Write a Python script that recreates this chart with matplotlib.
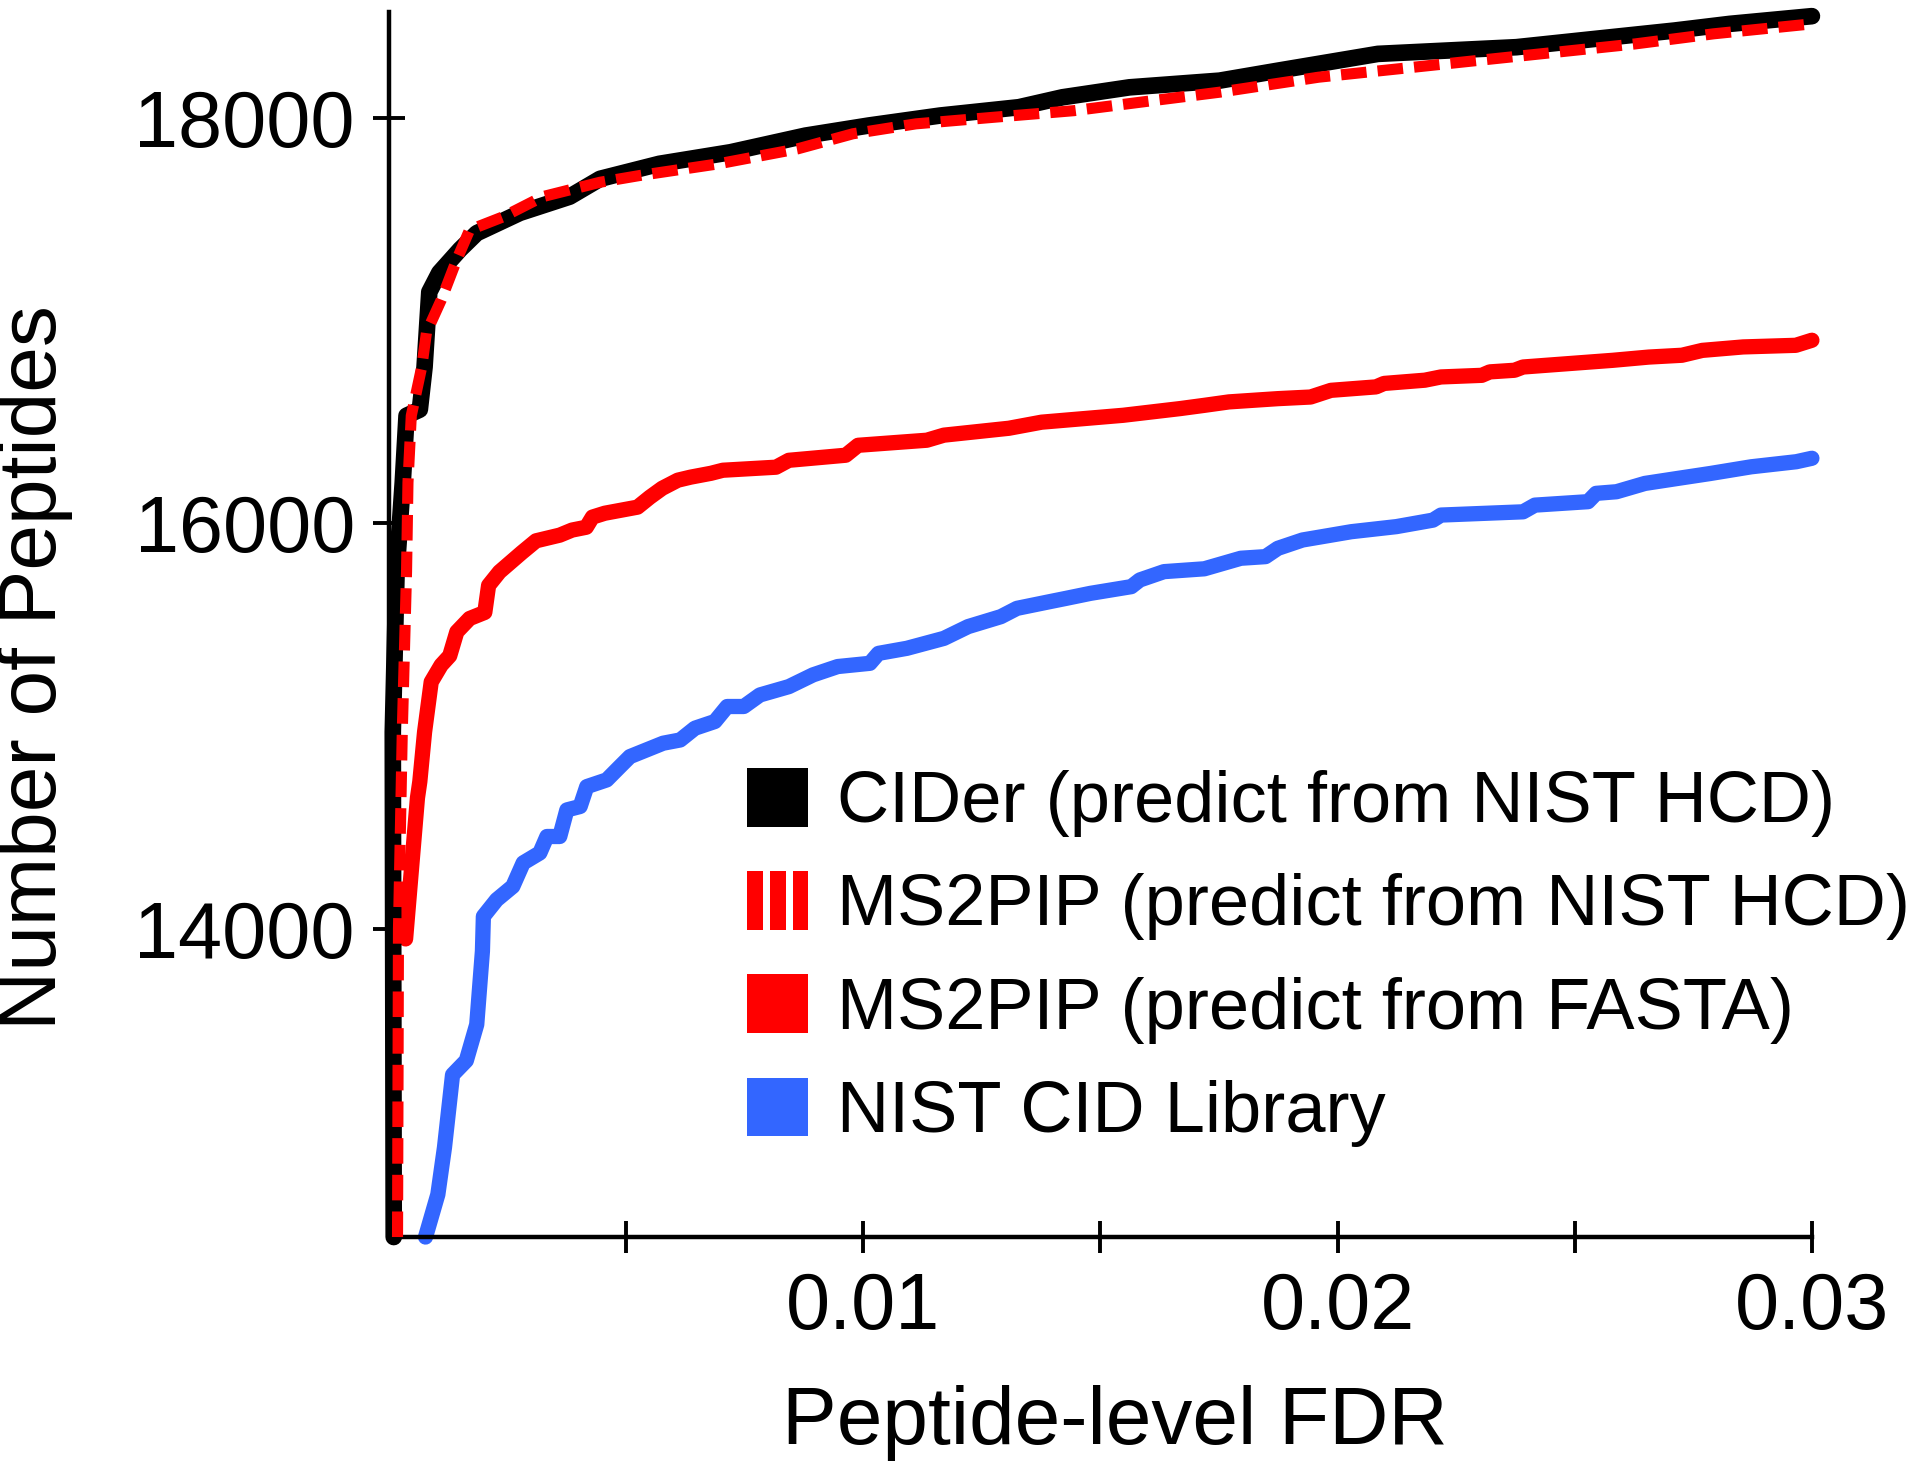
import matplotlib
matplotlib.use('Agg')
import matplotlib.pyplot as plt
from matplotlib.patches import Patch
from matplotlib.legend_handler import HandlerTuple

plt.rcParams['font.family'] = ['Liberation Sans', 'DejaVu Sans']

labels = ['CIDer (predict from NIST HCD)', 'MS2PIP (predict from NIST HCD)',
          'MS2PIP (predict from FASTA)', 'NIST CID Library']

# values (FDR, number of peptides)
cider_fdr = [0.0001, 0.00008, 0.00016, 0.00029, 0.00037, 0.00065, 0.00075, 0.00085, 0.00106,
             0.0015, 0.00185, 0.00276, 0.00381, 0.00445, 0.0057, 0.0072, 0.00878, 0.01012,
             0.01162, 0.01328, 0.0142, 0.01561, 0.01751, 0.01876, 0.02085, 0.02377, 0.02543,
             0.0271, 0.02827, 0.03]
cider_pep = [12480, 14970, 15760, 16200, 16530, 16560, 16770, 17140, 17235,
             17350, 17430, 17530, 17610, 17698, 17772, 17829, 17911, 17961,
             18010, 18051, 18100, 18149, 18182, 18232, 18314, 18347, 18388,
             18429, 18462, 18500]

ms2pip_hcd_fdr = [0.00018, 0.0002, 0.00028, 0.00037, 0.0004, 0.00047, 0.00069, 0.00079, 0.0011,
                  0.00143, 0.0017, 0.0024, 0.00324, 0.00445, 0.00528, 0.00695, 0.00862, 0.00978,
                  0.01111, 0.01278, 0.01444, 0.01612, 0.01751, 0.0196, 0.02127, 0.02293,
                  0.0246, 0.02627, 0.02793, 0.03]
ms2pip_hcd_pep = [12480, 14000, 14970, 15760, 16200, 16530, 16770, 16940, 17100,
                  17300, 17446, 17510, 17610, 17681, 17714, 17772, 17846, 17920,
                  17969, 18002, 18034, 18084, 18125, 18199, 18240, 18281,
                  18322, 18363, 18413, 18462]

ms2pip_fasta_fdr = [0.00035, 0.0006, 0.00065, 0.00075, 0.00089, 0.0011, 0.00128, 0.00143, 0.0017,
                    0.00202, 0.0021, 0.00233, 0.0028, 0.0031, 0.0036, 0.00386, 0.00416, 0.00429,
                    0.00455, 0.00524, 0.0055, 0.00576, 0.00609, 0.00636, 0.00679, 0.00704,
                    0.00816, 0.00843, 0.00963, 0.00989, 0.01134, 0.0117, 0.01307, 0.01376,
                    0.01548, 0.01668, 0.01719, 0.01771, 0.01874, 0.01943, 0.01986, 0.02081,
                    0.02098, 0.02184, 0.02218, 0.02304, 0.02321, 0.02373, 0.02391, 0.0258,
                    0.02656, 0.02726, 0.02769, 0.02855, 0.02966, 0.03]
ms2pip_fasta_pep = [13950, 14645, 14726, 14970, 15217, 15300, 15346, 15464, 15530,
                    15560, 15693, 15760, 15855, 15913, 15941, 15966, 15980, 16030,
                    16049, 16079, 16128, 16172, 16212, 16227, 16246, 16261,
                    16276, 16310, 16335, 16384, 16409, 16434, 16468, 16498,
                    16532, 16565, 16581, 16598, 16614, 16622, 16655, 16672,
                    16689, 16705, 16721, 16729, 16746, 16754, 16770, 16803,
                    16819, 16828, 16852, 16869, 16877, 16902]

nist_cid_fdr = [0.00077, 0.00103, 0.00117, 0.00134, 0.00163, 0.00185, 0.00197, 0.00199, 0.00227,
                0.00261, 0.00283, 0.00318, 0.00333, 0.0036, 0.00375, 0.00403, 0.00417, 0.00459,
                0.00487, 0.00508, 0.00543, 0.00578, 0.00614, 0.00645, 0.00687, 0.00713, 0.00748,
                0.00782, 0.00843, 0.00894, 0.00946, 0.01014, 0.01032, 0.01092, 0.0117, 0.01221,
                0.0129, 0.01324, 0.01393, 0.01427, 0.01479, 0.01565, 0.01583, 0.01634, 0.01719,
                0.01796, 0.01848, 0.01874, 0.01926, 0.02029, 0.02124, 0.02201, 0.02218, 0.02391,
                0.02416, 0.02528, 0.02545, 0.02588, 0.02648, 0.02718, 0.02786, 0.02872, 0.02967,
                0.03]
nist_cid_pep = [12480, 12690, 12922, 13280, 13350, 13528, 13890, 14061, 14143,
                14209, 14325, 14374, 14455, 14455, 14586, 14603, 14701, 14734,
                14800, 14849, 14882, 14915, 14931, 14989, 15022, 15096, 15096,
                15153, 15194, 15252, 15293, 15309, 15358, 15383, 15432, 15490,
                15539, 15580, 15613, 15629, 15654, 15687, 15720, 15761, 15775,
                15827, 15835, 15876, 15917, 15958, 15983, 16015, 16040, 16056,
                16089, 16106, 16147, 16155, 16196, 16221, 16245, 16278, 16303,
                16320]

xticks = [0.005, 0.01, 0.015, 0.02, 0.025, 0.03]
xticklabels = ['', '0.01', '', '0.02', '', '0.03']
yticks = [14000, 16000, 18000]

black = '#000000'
red = '#ff0000'
blue = '#3366ff'

fig = plt.figure(figsize=(19.2, 14.76), dpi=100)
ax = fig.add_axes([0.2026, 0.1619, 0.7411, 0.8299])

ax.plot(cider_fdr, cider_pep, color=black, lw=12, solid_capstyle='round',
        solid_joinstyle='round', clip_on=False, zorder=3)
ax.plot(ms2pip_hcd_fdr, ms2pip_hcd_pep, color=red, lw=8, dashes=(2.3, 1.0),
        dash_capstyle='butt', clip_on=False, zorder=4)
ax.plot(ms2pip_fasta_fdr, ms2pip_fasta_pep, color=red, lw=11, solid_capstyle='round',
        solid_joinstyle='round', clip_on=False, zorder=2)
ax.plot(nist_cid_fdr, nist_cid_pep, color=blue, lw=11, solid_capstyle='round',
        solid_joinstyle='round', clip_on=False, zorder=2)

ax.set_xlim(0, 0.03)
ax.set_ylim(12480, 18520)
ax.set_xticks(xticks)
ax.set_xticklabels(xticklabels)
ax.set_yticks(yticks)
ax.tick_params(axis='both', direction='inout', length=23, width=2.8, labelsize=57, pad=13)

for s in ['top', 'right']:
    ax.spines[s].set_visible(False)
for s in ['left', 'bottom']:
    ax.spines[s].set_linewidth(3.2)

ax.set_xlabel('Peptide-level FDR', fontsize=59)
ax.set_ylabel('Number of Peptides', fontsize=59)
ax.xaxis.set_label_coords(0.51, -0.121)
ax.yaxis.set_label_coords(-0.222, 0.465)

handles = [Patch(facecolor=black, lw=0),
           (Patch(facecolor=red, lw=0), Patch(facecolor=red, lw=0), Patch(facecolor=red, lw=0)),
           Patch(facecolor=red, lw=0),
           Patch(facecolor=blue, lw=0)]
fig.legend(handles, labels, loc='upper left', bbox_to_anchor=(747 / 1920, 1 - 768 / 1476),
           frameon=False, fontsize=52, handlelength=0.85, handleheight=0.87,
           handletextpad=0.4, labelspacing=0.47, borderpad=0, borderaxespad=0,
           handler_map={tuple: HandlerTuple(ndivide=3, pad=0.1)})

fig.savefig('out.png', dpi=100)
